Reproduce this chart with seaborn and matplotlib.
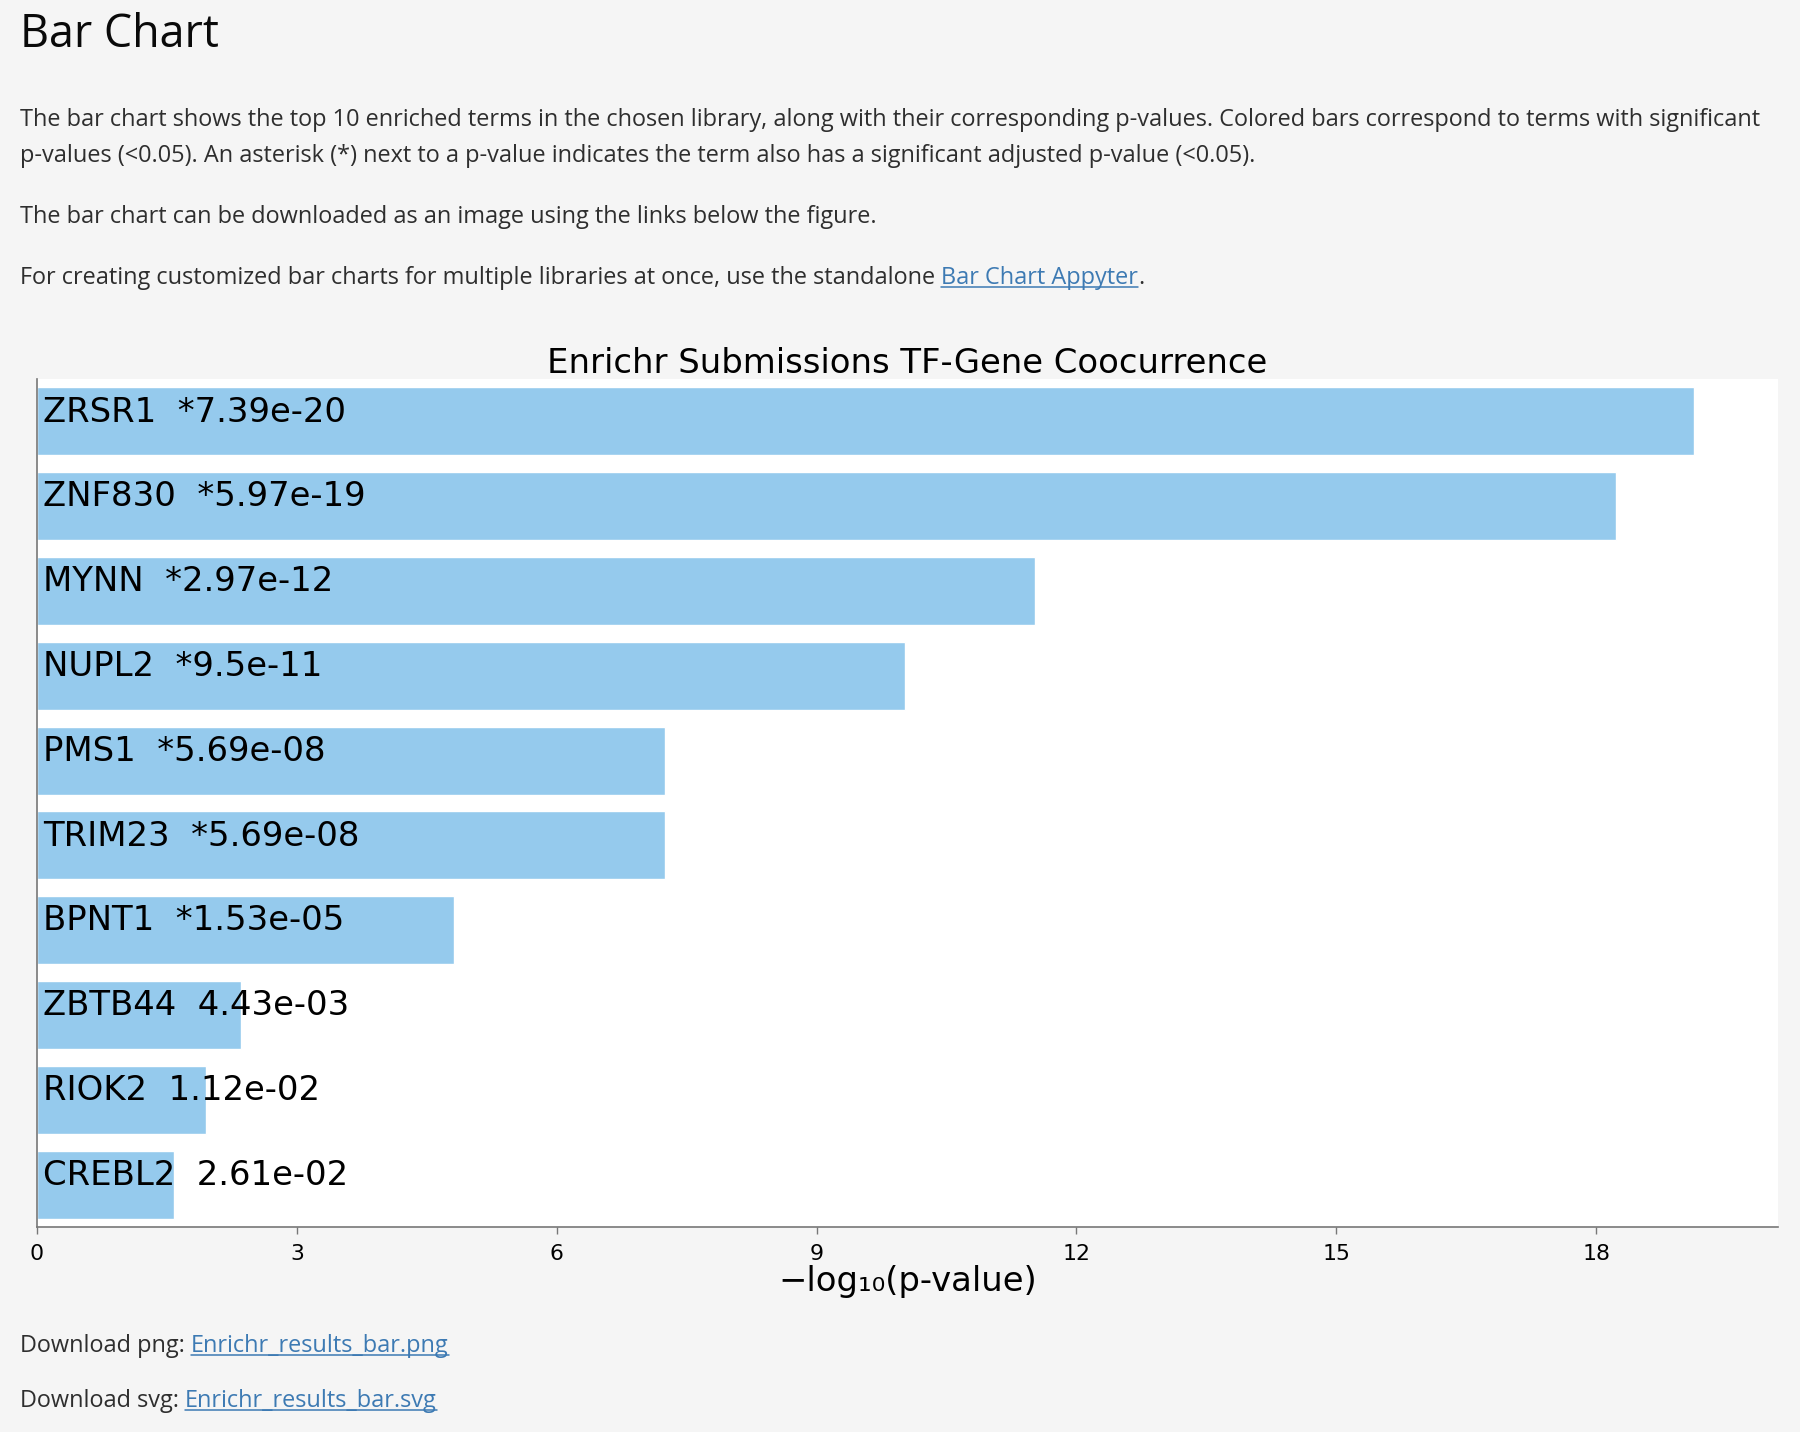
import numpy as np
import matplotlib
matplotlib.use('Agg')
import matplotlib.pyplot as plt
from matplotlib.lines import Line2D
import seaborn as sns

# Data
terms = ['ZRSR1', 'ZNF830', 'MYNN', 'NUPL2', 'PMS1', 'TRIM23', 'BPNT1', 'ZBTB44', 'RIOK2', 'CREBL2']
p_labels = ['7.39e-20', '5.97e-19', '2.97e-12', '9.5e-11', '5.69e-08', '5.69e-08',
            '1.53e-05', '4.43e-03', '1.12e-02', '2.61e-02']
p_values = [7.39e-20, 5.97e-19, 2.97e-12, 9.5e-11, 5.69e-08, 5.69e-08,
            1.53e-05, 4.43e-03, 1.12e-02, 2.61e-02]
adj_significant = [True, True, True, True, True, True, True, False, False, False]
x_ticks = [0, 3, 6, 9, 12, 15, 18]

neg_log_p = -np.log10(p_values)

W, H = 1800, 1432
PAGE = '#f5f5f5'
BAR = '#95caed'
TXT = '#2e2e2e'
LINK = '#3d7ab3'

sns.set_style('white')
plt.rcParams['font.family'] = ['DejaVu Sans']
plt.rcParams['text.color'] = 'black'
plt.rcParams['axes.labelcolor'] = 'black'
plt.rcParams['xtick.color'] = 'black'

fig = plt.figure(figsize=(W / 100, H / 100), dpi=100, facecolor=PAGE)
ax = fig.add_axes([37 / W, 1 - 1227 / H, (1778 - 37) / W, (1227 - 379) / H])
ax.set_facecolor('white')

sns.barplot(x=neg_log_p, y=terms, orient='h', color=BAR, saturation=1,
            width=0.8, ax=ax)

for i, (term, lab, sig) in enumerate(zip(terms, p_labels, adj_significant)):
    star = '*' if sig else ''
    ax.text(0.07, i - 0.11, f'{term}  {star}{lab}', va='center', ha='left',
            fontsize=24.4, color='black')

ax.set_xlim(0, 20.1)
ax.set_ylim(len(terms) - 0.5, -0.5)
ax.set_xticks(x_ticks)
ax.set_xticklabels([str(t) for t in x_ticks], fontsize=15.8)
ax.set_yticks([])
ax.set_ylabel('')
ax.set_xlabel('\u2212log\u2081\u2080(p-value)', fontsize=24.4, labelpad=1)
ax.set_title('Enrichr Submissions TF-Gene Coocurrence', fontsize=24.4, pad=4, color='black')
for s in ['top', 'right']:
    ax.spines[s].set_visible(False)
for s in ['left', 'bottom']:
    ax.spines[s].set_color('#777777')
    ax.spines[s].set_linewidth(1.2)
ax.tick_params(axis='x', bottom=True, length=5, width=1, color='#777777', pad=7)

# Page text around the figure
renderer = fig.canvas.get_renderer()
body = dict(family='Open Sans', fontsize=16.95, color=TXT, va='baseline', ha='left')


def text_line(x_px, y_px, parts):
    probe = fig.text(0, 0, 'a a', **body)
    probe2 = fig.text(0, 0, 'aa', **body)
    space = probe.get_window_extent(renderer).width - probe2.get_window_extent(renderer).width
    probe.remove()
    probe2.remove()
    x = x_px
    for txt, link, gap in parts:
        style = dict(body)
        if link:
            style['color'] = LINK
        t = fig.text(x / W, 1 - y_px / H, txt, **style)
        bb = t.get_window_extent(renderer)
        if link:
            fig.add_artist(Line2D([bb.x0 / W, bb.x1 / W],
                                  [(H - y_px - 3) / H, (H - y_px - 3) / H],
                                  transform=fig.transFigure, color=LINK, lw=1.1))
        x = bb.x1 + (space if gap else 0)


fig.text(20 / W, 1 - 47 / H, 'Bar Chart', family='Open Sans', fontsize=32.3,
         color='#0a0a0a', va='baseline', ha='left')
text_line(20, 126, [('The bar chart shows the top 10 enriched terms in the chosen library, along with '
                     'their corresponding p-values. Colored bars correspond to terms with significant', False, False)])
text_line(20, 162, [('p-values (<0.05). An asterisk (*) next to a p-value indicates the term also has a '
                     'significant adjusted p-value (<0.05).', False, False)])
text_line(20, 223, [('The bar chart can be downloaded as an image using the links below the figure.', False, False)])
text_line(20, 284, [('For creating customized bar charts for multiple libraries at once, use the standalone', False, True),
                    ('Bar Chart Appyter', True, False), ('.', False, False)])
text_line(20, 1352, [('Download png:', False, True), ('Enrichr_results_bar.png', True, False)])
text_line(20, 1407, [('Download svg:', False, True), ('Enrichr_results_bar.svg', True, False)])

fig.savefig('out.png', dpi=100, facecolor=PAGE)
